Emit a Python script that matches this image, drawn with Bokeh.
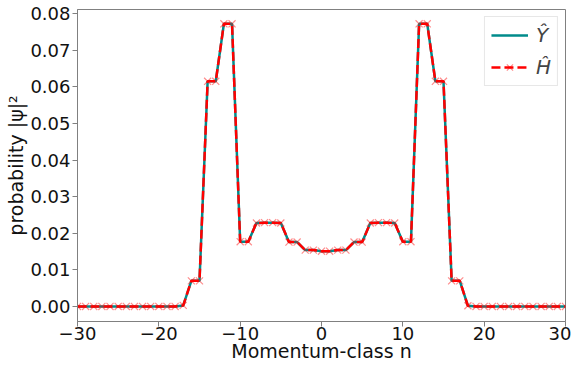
from bokeh.plotting import figure
from bokeh.embed import file_html
from bokeh.resources import INLINE
from bokeh.models import Range1d, FixedTicker, NumeralTickFormatter, CustomJSTickFormatter, Legend, LegendItem

# Data
n_vals = list(range(-30, 31))
prob_Y = ([0.0] * 13 +                      # -30..-18
          [0.0003,                           # -17
           0.0070, 0.0070,                   # -16,-15
           0.0615, 0.0615,                   # -14,-13
           0.0772, 0.0772,                   # -12,-11
           0.0177, 0.0177,                   # -10,-9
           0.0228, 0.0229, 0.0229, 0.0228,   # -8..-5
           0.0176, 0.0176,                   # -4,-3
           0.0154, 0.0154,                   # -2,-1
           0.0151, 0.0151,                   # 0,1
           0.0154, 0.0154,                   # 2,3
           0.0176, 0.0176,                   # 4,5
           0.0228, 0.0229, 0.0229, 0.0228,   # 6..9
           0.0177, 0.0177,                   # 10,11
           0.0772, 0.0772,                   # 12,13
           0.0615, 0.0615,                   # 14,15
           0.0070, 0.0070,                   # 16,17
           0.0002] +                         # 18
          [0.0] * 12)                        # 19..30
prob_H = list(prob_Y)
x_ticks = [-30, -20, -10, 0, 10, 20, 30]
y_ticks = [0.00, 0.01, 0.02, 0.03, 0.04, 0.05, 0.06, 0.07, 0.08]

p = figure(width=575, height=369, output_backend="svg", toolbar_location=None,
           x_range=Range1d(-30, 30), y_range=Range1d(-0.0041, 0.0811),
           min_border_left=81, min_border_right=6, min_border_top=12, min_border_bottom=45)
p.styles = {"margin-top": "-3px", "margin-left": "-4px"}

p.xgrid.visible = False
p.ygrid.visible = False
p.outline_line_color = "#808080"
p.outline_line_width = 1
p.background_fill_color = "white"
p.border_fill_color = "white"

for ax in (p.xaxis[0], p.yaxis[0]):
    ax.axis_line_color = "#808080"
    ax.major_tick_line_color = "#808080"
    ax.major_tick_out = 5
    ax.major_tick_in = 0
    ax.minor_tick_line_color = None
    ax.major_label_text_font = "DejaVu Sans"
    ax.major_label_text_font_size = "18px"
    ax.major_label_text_color = "#111111"
    ax.axis_label_text_font = "DejaVu Sans"
    ax.axis_label_text_font_size = "19px"
    ax.axis_label_text_font_style = "normal"
    ax.axis_label_text_color = "#111111"

p.xaxis.major_label_standoff = 0
p.yaxis.major_label_standoff = 2
p.xaxis.ticker = FixedTicker(ticks=x_ticks)
p.yaxis.ticker = FixedTicker(ticks=y_ticks)
p.xaxis.formatter = CustomJSTickFormatter(code="return (tick < 0 ? '\\u2212' : '') + Math.abs(tick).toString();")
p.yaxis.formatter = NumeralTickFormatter(format="0.00")
p.xaxis.axis_label = "Momentum-class n"
p.yaxis.axis_label = "probability |\u03c8|\u00b2"
p.xaxis.axis_label_standoff = -3
p.yaxis.axis_label_standoff = 0

r_y = p.line(n_vals, prob_Y, line_color="#008b8b", line_width=2.5)
r_h = p.line(n_vals, prob_H, line_color="#ff0000", line_width=2.5, line_dash="9 4")
r_hm = p.scatter(n_vals, prob_H, marker="x", size=10, line_color="#ff0000", line_alpha=0.45, line_width=1.2)

legend = Legend(items=[LegendItem(label="\u0176", renderers=[r_y]),
                       LegendItem(label="\u0124", renderers=[r_h, r_hm])],
                location="top_right")
legend.label_text_font = "DejaVu Sans"
legend.label_text_font_style = "italic"
legend.label_text_font_size = "20px"
legend.glyph_width = 37
legend.glyph_height = 22
legend.label_height = 22
legend.label_width = 12
legend.spacing = 8
legend.padding = 6
legend.margin = 7
legend.border_line_color = "#d0d0d0"
legend.border_line_width = 1
legend.background_fill_alpha = 0.85
legend.label_standoff = 8
p.add_layout(legend)

open("out.html", "w").write(file_html(p, INLINE))
